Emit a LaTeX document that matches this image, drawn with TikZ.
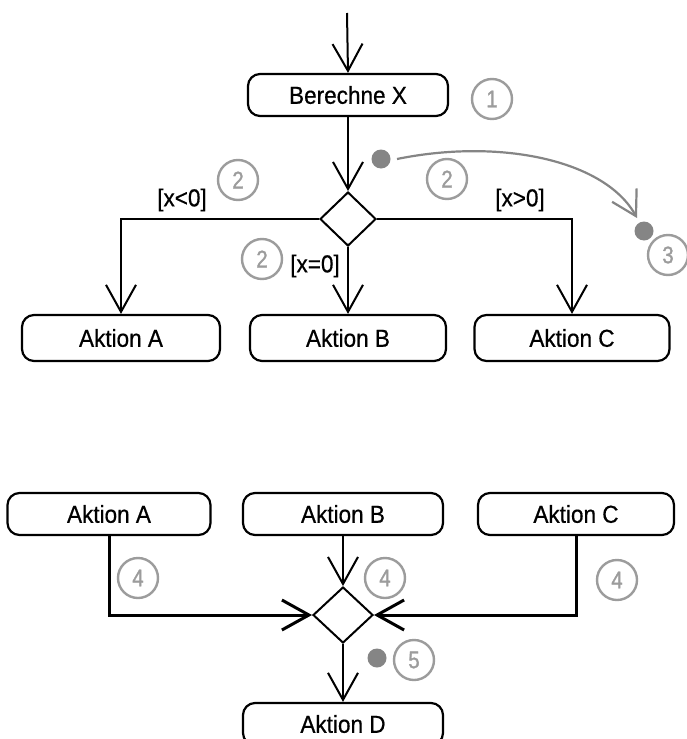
\documentclass[tikz,border=0pt]{standalone}
\usepackage{fontspec}
\setmainfont[FakeBold=0.6,FakeStretch=0.92]{Liberation Sans}
\newfontfamily\numfont[FakeBold=1.2,FakeStretch=0.85]{Liberation Sans}
\usetikzlibrary{arrows.meta,shapes.geometric}
\definecolor{markgray}{HTML}{9C9C9C}
\definecolor{dotgray}{HTML}{858585}
\begin{document}
\begin{tikzpicture}[x=1pt,y=-1pt,
  every node/.style={font=\fontsize{24.5}{28}\selectfont},
  actbox/.style={draw=black,line width=2.2pt,rectangle,rounded corners=12pt,inner sep=0pt,minimum height=42pt},
  decbox/.style={draw=black,line width=2pt,diamond,inner sep=0pt},
  flow/.style={draw=black,line width=2pt,-{Straight Barb[length=27pt,width=30pt]}},
  thickflow/.style={flow,line width=3pt},
  num/.style={circle,draw=markgray,line width=2.4pt,text=markgray,minimum size=40pt,inner sep=0pt,font=\numfont\fontsize{24}{26}\selectfont},
  tokdot/.style={circle,fill=dotgray,minimum size=19pt,inner sep=0pt},
  guard/.style={inner sep=0pt}
]
\useasboundingbox (0,0) rectangle (686,739);
\fill[white] (0,0) rectangle (686,739);

% ---------- upper part: decision ----------
\coordinate (start) at (347,13);
\node[actbox,minimum width=200pt] (berechne) at (348,95) {Berechne X};
\node[decbox,minimum width=56pt,minimum height=54pt] (dec) at (348,219) {};
\node[actbox,minimum width=198pt,minimum height=46pt] (a1) at (121,338) {Aktion A};
\node[actbox,minimum width=196pt,minimum height=46pt] (b1) at (348,338) {Aktion B};
\node[actbox,minimum width=195pt,minimum height=46pt] (c1) at (572,338) {Aktion C};

\draw[flow] (start) -- (berechne.north);
\draw[flow] (berechne.south) -- (dec.north);
\draw[flow] (dec.west) -| (a1.north);
\draw[flow] (dec.south) -- (b1.north);
\draw[flow] (dec.east) -| (c1.north);

\node[guard] (gl) at (182,200) {[x<0]};
\node[guard] (gr) at (520,200) {[x>0]};
\node[guard] (gm) at (315,266) {[x=0]};

\node[num] (n1) at (492,99) {1};
\node[num] (n2a) at (238,180) {2};
\node[num] (n2b) at (447,179) {2};
\node[num] (n2c) at (262,259) {2};
\node[num] (n3) at (668,255) {3};

\node[tokdot] (t1) at (381,159) {};
\node[tokdot] (t2) at (644,231) {};
\coordinate (cs) at (397,159);
\coordinate (ce) at (637,218);
\draw[dotgray,line width=2.2pt,-{Straight Barb[length=24pt,width=28pt]}]
  (cs) .. controls (500,138) and (605,160) .. (ce);

% ---------- lower part: merge ----------
\node[actbox,minimum width=203pt] (a2) at (109,514) {Aktion A};
\node[actbox,minimum width=200pt] (b2) at (343,514) {Aktion B};
\node[actbox,minimum width=196pt] (c2) at (576,514) {Aktion C};
\node[decbox,minimum width=60pt,minimum height=56pt] (mrg) at (343,615) {};
\node[actbox,minimum width=200pt] (d) at (343,724) {Aktion D};

\draw[thickflow] (a2.south) |- (mrg.west);
\draw[thickflow] (c2.south) |- (mrg.east);
\draw[flow] (b2.south) -- (mrg.north);
\draw[flow] (mrg.south) -- (d.north);

\node[num] (n4a) at (138,578) {4};
\node[num] (n4b) at (385,578) {4};
\node[num] (n4c) at (617,580) {4};
\node[tokdot] (t3) at (377,658) {};
\node[num] (n5) at (414,660) {5};
\end{tikzpicture}
\end{document}
